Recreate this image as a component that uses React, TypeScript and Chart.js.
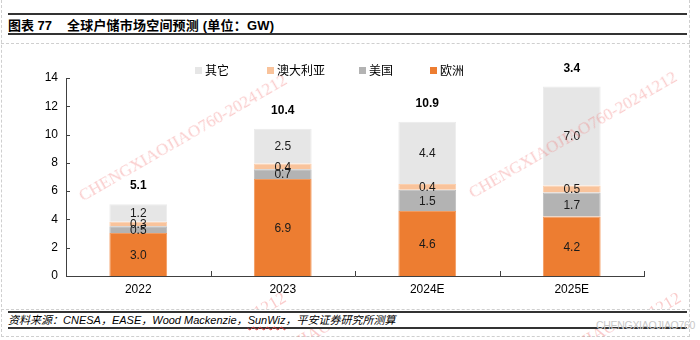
import React, { useEffect, useRef } from "react";
import { Chart, registerables } from "chart.js";
Chart.register(...registerables);

// ---- data ----
const categories = ["2022", "2023", "2024E", "2025E"];
const europe = [3.04, 6.86, 4.6, 4.2];
const usa = [0.48, 0.68, 1.5, 1.7];
const australia = [0.32, 0.41, 0.4, 0.5];
const others = [1.24, 2.46, 4.4, 7.0];
const totalLabels = ["5.1", "10.4", "10.9", "3.4"];
const seriesNames = ["欧洲", "美国", "澳大利亚", "其它"];
const legendNames = ["其它", "澳大利亚", "美国", "欧洲"];
const yMin = 0;
const yMax = 14;
const yStep = 2;
const titleHead = "图表 77";
const titleBody = "全球户储市场空间预测 (单位：GW)";
const sourceText = ["资料来源：CNESA，EASE，Wood Mackenzie，", "SunWiz", "，平安证券研究所测算"];
const watermarkText = "CHENGXIAOJIAO760-20241212";
const greyMarkText = "CHENGXIAOJIAO760";

const colors: Record<string, string> = {
  欧洲: "#ED7D31",
  美国: "#B3B3B3",
  澳大利亚: "#F9C39B",
  其它: "#E6E6E6",
};
const borderColors: Record<string, string> = {
  欧洲: "#F29A5E",
  美国: "#BDBDBD",
  澳大利亚: "#FBCFAE",
  其它: "#EBEBEB",
};

const FONT = '"Liberation Sans", Arial, "Noto Sans CJK SC", sans-serif';
const AXIS = "#404040";

const innerTicks = {
  id: "innerTicks",
  afterDatasetsDraw(chart: any) {
    const { ctx, chartArea } = chart;
    const y = chart.scales.y;
    ctx.save();
    ctx.strokeStyle = AXIS;
    ctx.lineWidth = 1;
    for (let v = yMin; v <= yMax; v += yStep) {
      const py = Math.round(y.getPixelForValue(v)) + 0.5;
      ctx.beginPath();
      ctx.moveTo(chartArea.left, py);
      ctx.lineTo(chartArea.left + 4, py);
      ctx.stroke();
    }
    const n = categories.length;
    const w = (chartArea.right - chartArea.left) / n;
    for (let i = 1; i <= n; i++) {
      const px = Math.round(chartArea.left + i * w) + 0.5;
      ctx.beginPath();
      ctx.moveTo(px, chartArea.bottom);
      ctx.lineTo(px, chartArea.bottom - 5);
      ctx.stroke();
    }
    ctx.restore();
  },
};

const dataLabels = {
  id: "dataLabels",
  afterDatasetsDraw(chart: any) {
    const { ctx } = chart;
    ctx.save();
    ctx.textAlign = "center";
    ctx.textBaseline = "middle";
    ctx.fillStyle = "#1a1a1a";
    ctx.font = `12px ${FONT}`;
    chart.data.datasets.forEach((ds: any, di: number) => {
      const meta = chart.getDatasetMeta(di);
      meta.data.forEach((el: any, i: number) => {
        const v = ds.data[i] as number;
        ctx.fillText(v.toFixed(1), el.x, (el.y + el.base) / 2 + 1);
      });
    });
    const last = chart.getDatasetMeta(chart.data.datasets.length - 1);
    ctx.font = `bold 12px ${FONT}`;
    ctx.fillStyle = "#000";
    last.data.forEach((el: any, i: number) => {
      ctx.fillText(totalLabels[i], el.x, el.y - 18);
    });
    ctx.restore();
  },
};

function Mark({ cx, cy, clip }: { cx: number; cy: number; clip?: [number, number, number, number] }) {
  const ox = clip ? clip[0] : 0;
  const oy = clip ? clip[1] : 0;
  const inner = (
    <div
      style={{
        position: "absolute",
        left: cx - ox,
        top: cy - oy,
        transform: "translate(-50%, -50%) rotate(-30deg)",
        whiteSpace: "nowrap",
        font: '17px "Liberation Serif", "DejaVu Serif", serif',
        color: "rgba(240, 105, 105, 0.34)",
        pointerEvents: "none",
      }}
    >
      {watermarkText}
    </div>
  );
  if (!clip) return inner;
  return (
    <div style={{ position: "absolute", left: clip[0], top: clip[1], width: clip[2], height: clip[3], overflow: "hidden" }}>
      {inner}
    </div>
  );
}

export default function App() {
  const ref = useRef<HTMLCanvasElement | null>(null);
  useEffect(() => {
    if (!ref.current) return;
    const seriesData = [europe, usa, australia, others];
    const chart = new Chart(ref.current, {
      type: "bar",
      data: {
        labels: categories,
        datasets: seriesNames.map((name, k) => ({
          label: name,
          data: seriesData[k],
          backgroundColor: colors[name],
          borderColor: borderColors[name],
          borderWidth: 1,
          barPercentage: 0.4,
          categoryPercentage: 1,
        })),
      },
      options: {
        animation: false,
        responsive: false,
        maintainAspectRatio: false,
        layout: { padding: { left: 0, right: 56, top: 34, bottom: 0 } },
        plugins: { legend: { display: false }, tooltip: { enabled: false }, title: { display: false } },
        scales: {
          x: {
            stacked: true,
            grid: { display: false, drawTicks: false },
            border: { display: true, color: AXIS, width: 1 },
            ticks: { padding: 6, color: "#000", font: { size: 12, family: FONT } },
            afterFit: (s: any) => {
              s.height = 28;
            },
          },
          y: {
            stacked: true,
            min: yMin,
            max: yMax,
            grid: { display: false, drawTicks: false },
            border: { display: true, color: AXIS, width: 1 },
            ticks: { stepSize: yStep, padding: 8, color: "#000", font: { size: 12, family: FONT } },
            afterFit: (s: any) => {
              s.width = 66;
            },
          },
        },
      },
      plugins: [innerTicks, dataLabels],
    } as any);
    return () => chart.destroy();
  }, []);

  const legendPos = [195, 267, 359, 430];
  const titleStyle: React.CSSProperties = {
    position: "absolute",
    top: 17,
    height: 17,
    lineHeight: "17px",
    fontSize: 13,
    fontWeight: "bold",
    color: "#000",
    whiteSpace: "pre",
    fontFamily: '"Liberation Sans", Arial, "Noto Sans CJK SC", sans-serif',
  };

  return (
    <div style={{ position: "fixed", left: 0, top: 0, width: 700, height: 340, background: "#fff", overflow: "hidden", fontFamily: FONT }}>
      {/* dotted frame */}
      <div style={{ position: "absolute", left: 1, top: 0, width: 689, height: 337, borderLeft: "1px dashed #cfcfcf", borderRight: "1px dashed #cfcfcf", borderBottom: "1px dashed #cfcfcf", boxSizing: "border-box" }} />
      <div style={{ position: "absolute", left: 1, top: 43, width: 689, height: 0, borderTop: "1px dashed #cfcfcf" }} />
      <div style={{ position: "absolute", left: 1, top: 309, width: 689, height: 0, borderTop: "1px dashed #cfcfcf" }} />

      {/* header */}
      <div style={{ position: "absolute", left: 8, top: 13, width: 679, height: 2, background: "#333" }} />
      <div style={{ position: "absolute", left: 8, top: 33, width: 679, height: 2, background: "#333" }} />
      <div style={{ ...titleStyle, left: 8 }}>{titleHead}</div>
      <div style={{ ...titleStyle, left: 67, letterSpacing: 0.2 }}>{titleBody}</div>

      {/* chart */}
      <canvas ref={ref} width={700} height={260} style={{ position: "absolute", left: 0, top: 44, width: 700, height: 260 }} />

      {/* legend */}
      {legendNames.map((name, i) => (
        <div key={name} style={{ position: "absolute", left: legendPos[i], top: 62, height: 16, display: "flex", alignItems: "center", whiteSpace: "nowrap" }}>
          <span style={{ display: "inline-block", width: 7, height: 7, background: colors[name], marginRight: 3 }} />
          <span style={{ fontSize: 12, lineHeight: "16px", color: "#000", fontFamily: '"Noto Sans CJK SC", sans-serif' }}>{name}</span>
        </div>
      ))}

      {/* footer */}
      <div style={{ position: "absolute", left: 8, top: 311, width: 679, height: 2, background: "#333" }} />
      <div style={{ position: "absolute", left: 8, top: 327, width: 679, height: 2, background: "#333" }} />
      <div style={{ position: "absolute", left: 8, top: 313, height: 14, lineHeight: "14px", fontSize: 11, fontStyle: "italic", color: "#000", whiteSpace: "nowrap" }}>
        {sourceText[0]}
        <span style={{ textDecoration: "underline wavy #e03030", textDecorationThickness: 1, textUnderlineOffset: 2 }}>{sourceText[1]}</span>
        {sourceText[2]}
      </div>
      <div style={{ position: "absolute", left: 596, top: 319, fontSize: 10.5, color: "#c8c8c8", whiteSpace: "nowrap", letterSpacing: -0.3 }}>{greyMarkText}</div>

      {/* watermarks */}
      <Mark cx={183} cy={138} />
      <Mark cx={573} cy={135} />
      <Mark cx={182} cy={356} clip={[225, 288, 80, 21]} />
      <Mark cx={577} cy={356} clip={[620, 288, 68, 21]} />
      <Mark cx={313} cy={334} clip={[290, 329, 45, 8]} />
      <Mark cx={598} cy={334} clip={[578, 329, 42, 8]} />
    </div>
  );
}
